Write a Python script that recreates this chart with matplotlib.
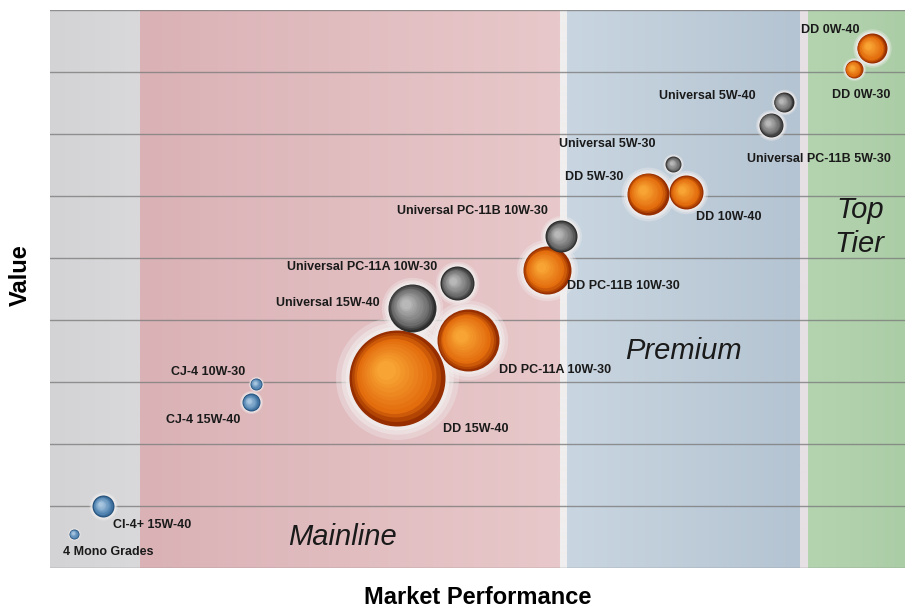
import numpy as np
import matplotlib
matplotlib.use("Agg")
import matplotlib.pyplot as plt
from matplotlib.transforms import offset_copy
from matplotlib.colors import to_rgb

# product bubbles: market performance (x), value (y), bubble radius, family
names = [
    "4 Mono Grades", "CI-4+ 15W-40", "CJ-4 10W-30", "CJ-4 15W-40",
    "DD 15W-40", "DD PC-11A 10W-30", "Universal 15W-40", "Universal PC-11A 10W-30",
    "DD PC-11B 10W-30", "Universal PC-11B 10W-30", "DD 5W-30", "DD 10W-40",
    "Universal 5W-30", "Universal 5W-40", "Universal PC-11B 5W-30",
    "DD 0W-40", "DD 0W-30",
]
perf = [2.8, 6.2, 24.1, 23.5, 40.6, 48.9, 42.3, 47.6, 58.1, 59.8, 69.9, 74.4,
        72.9, 85.8, 84.3, 96.1, 94.0]
value = [0.55, 1.0, 2.97, 2.67, 3.07, 3.67, 4.2, 4.59, 4.8, 5.35, 6.04, 6.06,
         6.51, 7.51, 7.15, 8.38, 8.05]
volume = [5, 11, 6, 9, 48, 31, 24, 17, 24, 16, 21, 17, 8, 10, 12, 15, 9]
family = ["base", "base", "base", "base", "DD", "DD", "Universal", "Universal",
          "DD", "Universal", "DD", "DD", "Universal", "Universal", "Universal",
          "DD", "DD"]

# tiers along the x axis
tier_edges = [0, 10.5, 59.6, 60.5, 87.7, 88.7, 100]
tier_colors = [("#d3d3d5", "#d9d9db"), ("#dab2b6", "#e8c8ca"), ("#f0eeee", "#f0eeee"),
               ("#c9d6e1", "#b5c4d2"), ("#e6e0e4", "#e6e0e4"), ("#b4d4b0", "#abcda6")]

# label placement (pixel offsets from bubble centre) and alignment
label_off = [(-11, -18), (10, -19), (-11, 12), (-11, -18), (46, -51), (31, -30),
             (-32, 5), (-20, 16), (20, -16), (-13, 25), (-24, 17), (10, -25),
             (-18, 20), (-28, 6), (-24, -34), (-12, 18), (-22, -26)]
label_ha = ["left", "left", "right", "right", "left", "left", "right", "right",
            "left", "right", "right", "left", "right", "right", "left", "right", "left"]

shades = {
    "DD": ("#962e00", "#e26a0c", "#f8a434"),
    "Universal": ("#2e2e2e", "#6a6a6a", "#b8b8b8"),
    "base": ("#24507a", "#4f82b0", "#a8c6e0"),
}

plt.rcParams["font.family"] = ["Liberation Sans", "DejaVu Sans"]
fig = plt.figure(figsize=(9.1, 6.16), dpi=100)
ax = fig.add_axes([50 / 910, 48 / 616, 855 / 910, 558 / 616])
ax.set_xlim(0, 100)
ax.set_ylim(0, 9)

# background bands with a soft horizontal gradient
for i in range(len(tier_colors)):
    c0 = np.array(to_rgb(tier_colors[i][0]))
    c1 = np.array(to_rgb(tier_colors[i][1]))
    t = np.linspace(0, 1, 64)
    grad = (c0[None, :] * (1 - t[:, None]) + c1[None, :] * t[:, None])[None, :, :]
    ax.imshow(grad, extent=(tier_edges[i], tier_edges[i + 1], 0, 9),
              aspect="auto", zorder=0, interpolation="bilinear")

for yv in range(10):
    ax.axhline(yv, color="#7d7d7d", lw=1.0, alpha=0.8, zorder=1)

# band names
ax.text(34.2, 0.5, "Mainline", fontsize=21, style="italic", ha="center",
        va="center", color="#1a1a1a", zorder=2)
ax.text(74.1, 3.5, "Premium", fontsize=21, style="italic", ha="center",
        va="center", color="#1a1a1a", zorder=2)
ax.text(97.6, 5.5, "Top\nTier", fontsize=21, style="italic", ha="right",
        va="center", color="#1a1a1a", zorder=2, linespacing=1.3)


def lerp(a, b, t):
    a = np.array(to_rgb(a))
    b = np.array(to_rgb(b))
    return tuple(a * (1 - t) + b * t)


# draw big bubbles first so small ones sit on top
order = np.argsort(volume)[::-1]
for i in order:
    r = volume[i]
    dark, mid, light = shades[family[i]]
    d_pt = 2 * r * 0.72
    # soft halo
    for g, a in [(1.28, 0.35), (1.17, 0.5), (1.08, 0.7)]:
        ax.scatter(perf[i], value[i], s=(d_pt * g) ** 2, color="#f2eeee",
                   alpha=a, lw=0, zorder=3)
    n = 12
    for k in range(n):
        t = k / (n - 1)
        f = 1 - 0.8 * t
        if t < 0.25:
            col = lerp(dark, mid, t / 0.25)
        else:
            col = lerp(mid, light, (t - 0.25) / 0.75)
        dx = -(1 - f) * r * 0.3
        dy = (1 - f) * r * 0.2
        tr = offset_copy(ax.transData, fig=fig, x=dx, y=dy, units="dots")
        ax.scatter(perf[i], value[i], s=(d_pt * f) ** 2, color=col, lw=0,
                   transform=tr, zorder=4)
    ax.annotate(names[i], (perf[i], value[i]), xytext=label_off[i],
                textcoords="offset pixels", ha=label_ha[i], va="center",
                fontsize=9, fontweight="bold", color="#1a1a1a", zorder=6)

ax.set_xticks([])
ax.set_yticks([])
for s in ax.spines.values():
    s.set_visible(False)

fig.text(20 / 910, 1 - 275 / 616, "Value", rotation=90, ha="center", va="center",
         fontsize=17, fontweight="bold")
fig.text(478 / 910, 1 - 598 / 616, "Market Performance", ha="center", va="center",
         fontsize=17, fontweight="bold")

fig.savefig("out.png", dpi=100)
